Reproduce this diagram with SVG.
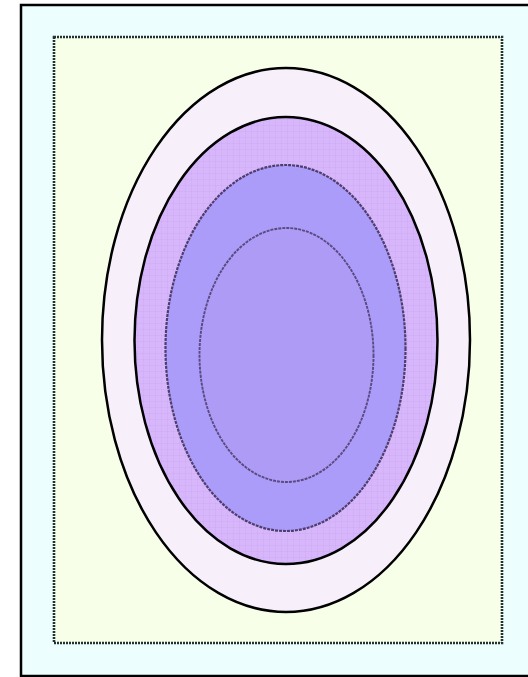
<svg xmlns="http://www.w3.org/2000/svg" width="528" height="677" viewBox="0 0 528 677">
  <defs>
    <pattern id="grid" width="6" height="6" patternUnits="userSpaceOnUse">
      <path d="M6 0V6M0 6H6" stroke="#8060c0" stroke-opacity="0.12" stroke-width="1" fill="none"/>
    </pattern>
  </defs>
  <style>
    .frame { fill: #ecfefe; stroke: #000; stroke-width: 2.5; }
    .inner { fill: #f8ffe9; stroke: #223232; stroke-width: 2.6; stroke-dasharray: 2 1; }
    .ring1 { fill: #f7f0fb; stroke: #000; stroke-width: 2.5; }
    .ring2 { fill: #d8b6fb; stroke: #000; stroke-width: 2.5; }
    .ring3 { fill: #aa9cf8; stroke: #4e3e6e; stroke-width: 2.2; stroke-dasharray: 3 1; }
    .ring4 { fill: #ad9bf6; stroke: #5a4a80; stroke-width: 1.9; stroke-dasharray: 3 1; }
    .tex { fill: url(#grid); stroke: none; }
  </style>
  <g id="background">
    <rect class="frame" x="21" y="5" width="510" height="671"/>
    <rect class="inner" x="54" y="37" width="448" height="606"/>
  </g>
  <g id="ellipse-outer">
    <ellipse class="ring1" cx="286" cy="340" rx="184" ry="272"/>
  </g>
  <g id="ellipse-second">
    <ellipse class="ring2" cx="286" cy="340.5" rx="151.5" ry="223.5"/>
    <ellipse class="tex" cx="286" cy="340.5" rx="150" ry="222"/>
  </g>
  <g id="ellipse-third">
    <ellipse class="ring3" cx="285.5" cy="348" rx="120" ry="183"/>
  </g>
  <g id="ellipse-inner">
    <ellipse class="ring4" cx="286.5" cy="355" rx="87" ry="127"/>
  </g>
  <g id="connectors"/>
</svg>
